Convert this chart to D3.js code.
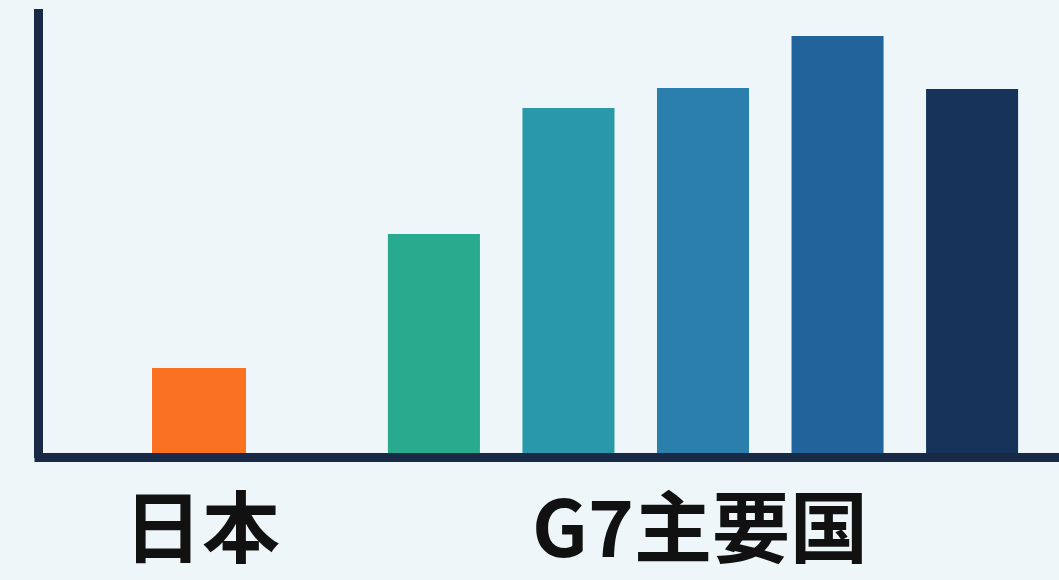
<!DOCTYPE html>
<html>
<head>
<meta charset="utf-8">
<script src="https://cdn.jsdelivr.net/npm/d3@7"></script>
<style>
  html, body { margin: 0; padding: 0; background: #eef6fa; }
  svg { display: block; }
</style>
</head>
<body>
<svg class="canvas"></svg>
<script>
// data (relative bar heights, no units shown)
const japanLabel = ["日本"];
const japanValues = [85];
const g7Label = "G7主要国";
const g7Countries = ["g7-1", "g7-2", "g7-3", "g7-4", "g7-5"];
const g7Values = [219, 345, 365, 417, 364];
const g7Colors = ["#27aa8e", "#2998a8", "#2b7fad", "#21649b", "#163459"];
const japanColor = "#f97121";

const width = 1059;
const height = 580;
const axisColor = "#182a45";

const svg = d3.select(".canvas")
  .attr("width", width)
  .attr("height", height);

const y = d3.scaleLinear()
  .domain([0, 440])
  .range([453, 13]);

// japan sits alone on the left, the g7 bars on the right
const xJapan = d3.scaleBand()
  .domain(japanLabel)
  .range([105, 293])
  .paddingInner(0)
  .paddingOuter(0.5);

const xG7 = d3.scaleBand()
  .domain(g7Countries)
  .range([361, 1045])
  .paddingInner(0.316)
  .paddingOuter(0.2);

svg.selectAll(".bar-jp")
  .data(japanValues)
  .join("rect")
  .attr("class", "bar-jp")
  .attr("x", (d, i) => xJapan(japanLabel[i]))
  .attr("width", xJapan.bandwidth())
  .attr("y", d => y(d))
  .attr("height", d => y(0) - y(d))
  .attr("fill", japanColor);

svg.selectAll(".bar-g7")
  .data(g7Values)
  .join("rect")
  .attr("class", "bar-g7")
  .attr("x", (d, i) => xG7(g7Countries[i]))
  .attr("width", xG7.bandwidth())
  .attr("y", d => y(d))
  .attr("height", d => y(0) - y(d))
  .attr("fill", (d, i) => g7Colors[i]);

// axes: thick dark lines, no ticks
const yAxis = d3.axisLeft(y).ticks(0).tickSizeOuter(0);
svg.append("g")
  .attr("transform", "translate(38,0)")
  .call(yAxis)
  .call(g => g.select(".domain")
    .attr("stroke", axisColor)
    .attr("stroke-width", 9)
    .attr("stroke-linecap", "square"));

const xLine = d3.scaleLinear().domain([0, 1]).range([34, width]);
const xAxis = d3.axisBottom(xLine).ticks(0).tickSizeOuter(0);
svg.append("g")
  .attr("transform", `translate(0,${y(0) + 4})`)
  .call(xAxis)
  .call(g => g.select(".domain")
    .attr("stroke", axisColor)
    .attr("stroke-width", 9));

// group labels
const labelFont = "'Noto Sans CJK JP', 'Noto Sans CJK SC', sans-serif";

svg.append("text")
  .attr("x", xJapan(japanLabel[0]) + xJapan.bandwidth() / 2 + 3)
  .attr("y", 557)
  .attr("text-anchor", "middle")
  .style("font-family", labelFont)
  .style("font-weight", 700)
  .style("font-size", "78px")
  .attr("fill", "#111")
  .text(japanLabel[0]);

svg.append("text")
  .attr("x", (xG7(g7Countries[0]) + xG7(g7Countries[4]) + xG7.bandwidth()) / 2 - 3)
  .attr("y", 557)
  .attr("text-anchor", "middle")
  .style("font-family", labelFont)
  .style("font-weight", 700)
  .style("font-size", "78px")
  .attr("fill", "#111")
  .text(g7Label);
</script>
</body>
</html>
